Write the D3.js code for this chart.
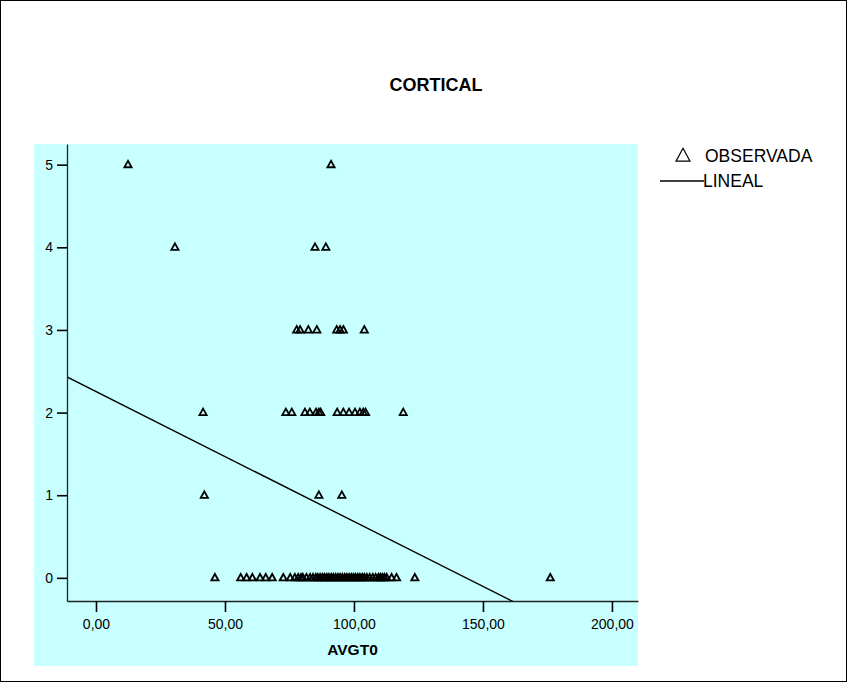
<!DOCTYPE html>
<html>
<head>
<meta charset="utf-8">
<script src="https://cdn.jsdelivr.net/npm/d3@7/dist/d3.min.js"></script>
<style>
  html, body { margin: 0; padding: 0; background: #ffffff; }
  svg { display: block; }
  text { font-family: Arial, "Liberation Sans", Helvetica, sans-serif; fill: #000; }
</style>
</head>
<body>
<svg id="chart" width="847" height="682"></svg>
<script>
// Observed AVGT0 values grouped by CORTICAL score
const score5 = [12.4, 91.1];
const score4 = [30.6, 84.9, 89.1];
const score3 = [77.8, 79.1, 82.3, 85.6, 93.3, 94.6, 95.9, 104.0];
const score2 = [41.5, 73.6, 75.9, 81.0, 82.9, 85.3, 86.4, 87.1, 93.5, 95.9, 98.1,
                100.4, 102.3, 103.6, 104.5, 119.1];
const score1 = [42.0, 86.4, 95.3];
const score0 = [46.1, 56.1, 58.4, 60.6, 63.6, 65.8, 68.3, 72.6, 75.3, 77.1, 78.4,
                79.5, 80.2, 81.6, 83.0, 84.1, 85.2, 86.0, 86.9, 87.8, 88.6, 89.5,
                90.3, 91.2, 92.0, 92.9, 93.8, 94.6, 95.5, 96.4, 97.2, 98.1, 99.0,
                99.8, 100.6, 101.5, 102.3, 103.2, 104.0, 105.0, 106.1, 107.3, 108.4,
                109.5, 110.2, 111.0, 111.8, 112.7, 114.6, 116.5, 123.6, 176.1];
const scoreLevels = [0, 1, 2, 3, 4, 5];
const scoreGroups = [score0, score1, score2, score3, score4, score5];

// Linear fit (LINEAL): CORTICAL = intercept + slope * AVGT0
const fitIntercept = 2.254;
const fitSlope = -0.01572;

// Axis ticks and labels
const xTicks = [0, 50, 100, 150, 200];
const yTicks = [0, 1, 2, 3, 4, 5];
const xDomain = [-11.24, 210.1];
const yDomain = [-0.28, 5.25];
const chartTitle = "CORTICAL";
const xTitle = "AVGT0";
const legendLabels = ["OBSERVADA", "LINEAL"];

const points = [];
scoreGroups.forEach((vals, i) => vals.forEach(v => points.push({ x: v, y: scoreLevels[i] })));

const svg = d3.select("#chart");

// outer frame
svg.append("rect")
  .attr("x", 0.5).attr("y", 0.5)
  .attr("width", 846).attr("height", 681)
  .attr("fill", "#ffffff").attr("stroke", "#000").attr("stroke-width", 1);

// coloured chart background
svg.append("rect")
  .attr("x", 34).attr("y", 144)
  .attr("width", 604).attr("height", 522)
  .attr("fill", "#c8ffff");

const plot = { left: 67, right: 638, top: 144, bottom: 601 };

const x = d3.scaleLinear().domain(xDomain).range([plot.left, plot.right]);
const y = d3.scaleLinear().domain(yDomain).range([plot.bottom, plot.top]);

svg.append("defs").append("clipPath").attr("id", "plotClip")
  .append("rect")
  .attr("x", plot.left).attr("y", plot.top)
  .attr("width", plot.right - plot.left).attr("height", plot.bottom - plot.top);

// fitted line
const x0 = xDomain[0], x1 = xDomain[1];
svg.append("line")
  .attr("clip-path", "url(#plotClip)")
  .attr("x1", x(x0)).attr("y1", y(fitIntercept + fitSlope * x0))
  .attr("x2", x(x1)).attr("y2", y(fitIntercept + fitSlope * x1))
  .attr("stroke", "#000").attr("stroke-width", 1.4);

// observed points as open triangles
const tri = (cx, cy, hw, h) =>
  `M${cx},${cy - h * 0.6}L${cx + hw},${cy + h * 0.4}L${cx - hw},${cy + h * 0.4}Z`;

svg.append("g")
  .selectAll("path")
  .data(points)
  .join("path")
  .attr("d", d => tri(x(d.x), y(d.y), 3.6, 6.5))
  .attr("fill", "none")
  .attr("stroke", "#000")
  .attr("stroke-width", 1.8)
  .attr("stroke-linejoin", "miter");

// axes
const fmtComma = d => d3.format(".2f")(d).replace(".", ",");

const gx = svg.append("g")
  .attr("transform", `translate(0,${plot.bottom})`)
  .call(d3.axisBottom(x).tickValues(xTicks).tickFormat(fmtComma)
    .tickSize(11).tickSizeOuter(0).tickPadding(7));

const gy = svg.append("g")
  .attr("transform", `translate(${plot.left},0)`)
  .call(d3.axisLeft(y).tickValues(yTicks).tickFormat(d3.format("d"))
    .tickSize(10).tickSizeOuter(0).tickPadding(4));

[gx, gy].forEach(g => {
  g.selectAll("path.domain").attr("stroke", "#222").attr("stroke-width", 1.3);
  g.selectAll(".tick line").attr("stroke", "#000").attr("stroke-width", 1.6);
  g.selectAll(".tick text")
    .attr("font-family", "Arial, 'Liberation Sans', sans-serif")
    .attr("font-size", 14).attr("fill", "#111");
});

// titles
svg.append("text")
  .attr("x", 436).attr("y", 91)
  .attr("text-anchor", "middle")
  .attr("font-size", 18).attr("font-weight", "bold")
  .text(chartTitle);

svg.append("text")
  .attr("x", (plot.left + plot.right) / 2).attr("y", 655)
  .attr("text-anchor", "middle")
  .attr("font-size", 15.5).attr("font-weight", "bold")
  .text(xTitle);

// legend
const lg = svg.append("g");
lg.append("path")
  .attr("d", tri(683, 156, 7, 13))
  .attr("fill", "none").attr("stroke", "#000").attr("stroke-width", 1.2);
lg.append("text")
  .attr("x", 705).attr("y", 162)
  .attr("font-size", 17.5)
  .text(legendLabels[0]);
lg.append("line")
  .attr("x1", 660).attr("x2", 704)
  .attr("y1", 181).attr("y2", 181)
  .attr("stroke", "#000").attr("stroke-width", 1.3);
lg.append("text")
  .attr("x", 703).attr("y", 187)
  .attr("font-size", 17.5)
  .text(legendLabels[1]);
</script>
</body>
</html>
